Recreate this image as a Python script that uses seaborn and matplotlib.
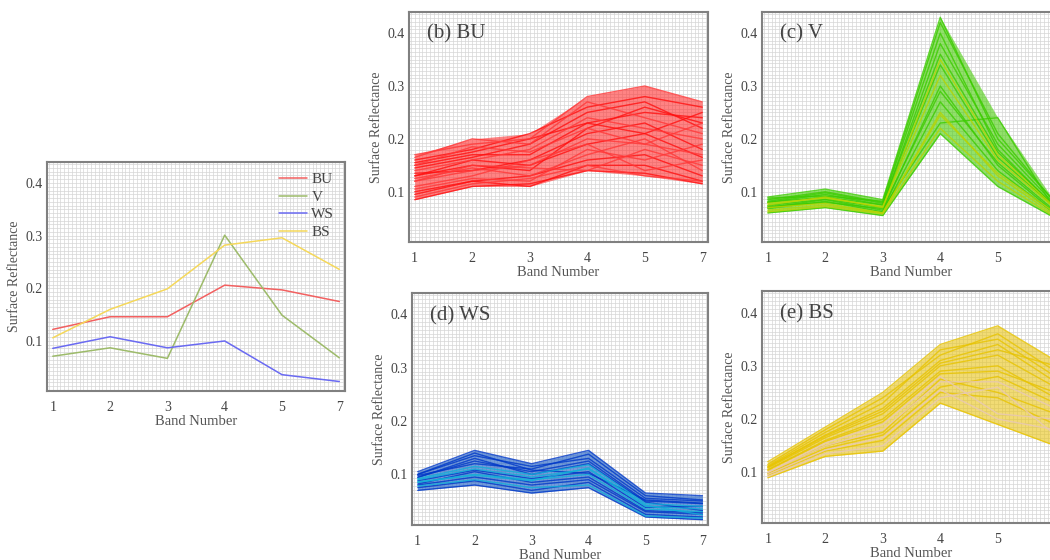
import numpy as np
import pandas as pd
import seaborn as sns
import matplotlib.pyplot as plt
from matplotlib.ticker import MultipleLocator

# band labels (positions are equally spaced, band 6 is skipped)
bands = ["1", "2", "3", "4", "5", "7"]

# (a) mean spectra
classes = ["BU", "V", "WS", "BS"]
mean_bu = [0.122, 0.146, 0.146, 0.206, 0.197, 0.175]
mean_v = [0.071, 0.087, 0.067, 0.301, 0.149, 0.068]
mean_ws = [0.086, 0.108, 0.087, 0.100, 0.036, 0.023]
mean_bs = [0.106, 0.160, 0.199, 0.282, 0.296, 0.236]

# (b) BU sample spectra
bu_spectra = [
    [0.085, 0.110, 0.115, 0.140, 0.135, 0.115],
    [0.170, 0.190, 0.200, 0.280, 0.300, 0.270],
    [0.160, 0.180, 0.210, 0.260, 0.280, 0.260],
    [0.120, 0.140, 0.150, 0.200, 0.190, 0.170],
    [0.100, 0.120, 0.110, 0.150, 0.150, 0.120],
    [0.140, 0.160, 0.180, 0.240, 0.220, 0.200],
    [0.130, 0.150, 0.140, 0.220, 0.260, 0.230],
    [0.110, 0.130, 0.160, 0.190, 0.140, 0.160],
    [0.150, 0.170, 0.170, 0.230, 0.210, 0.250],
    [0.125, 0.145, 0.130, 0.170, 0.200, 0.140],
    [0.095, 0.120, 0.130, 0.160, 0.170, 0.130],
    [0.165, 0.200, 0.190, 0.270, 0.240, 0.210],
    [0.135, 0.140, 0.160, 0.210, 0.230, 0.180],
    [0.105, 0.125, 0.120, 0.180, 0.160, 0.190],
    [0.145, 0.165, 0.190, 0.250, 0.270, 0.220],
    [0.120, 0.150, 0.145, 0.140, 0.180, 0.150],
    [0.155, 0.175, 0.200, 0.230, 0.250, 0.240],
    [0.090, 0.115, 0.125, 0.150, 0.130, 0.120],
    [0.130, 0.160, 0.150, 0.190, 0.210, 0.165],
    [0.150, 0.185, 0.175, 0.220, 0.190, 0.230],
]

# (c) V sample spectra
v_spectra = [
    [0.060, 0.070, 0.055, 0.210, 0.110, 0.050],
    [0.090, 0.105, 0.085, 0.430, 0.200, 0.080],
    [0.075, 0.090, 0.070, 0.350, 0.170, 0.070],
    [0.070, 0.085, 0.065, 0.300, 0.150, 0.060],
    [0.080, 0.095, 0.075, 0.380, 0.190, 0.075],
    [0.065, 0.075, 0.060, 0.250, 0.130, 0.055],
    [0.085, 0.100, 0.080, 0.400, 0.180, 0.070],
    [0.072, 0.080, 0.068, 0.230, 0.240, 0.065],
    [0.078, 0.088, 0.072, 0.320, 0.160, 0.068],
    [0.068, 0.082, 0.062, 0.270, 0.140, 0.058],
    [0.082, 0.098, 0.078, 0.360, 0.175, 0.072],
    [0.062, 0.072, 0.058, 0.220, 0.120, 0.052],
    [0.088, 0.092, 0.082, 0.420, 0.210, 0.078],
    [0.074, 0.086, 0.070, 0.290, 0.155, 0.063],
    [0.070, 0.078, 0.060, 0.245, 0.135, 0.060],
    [0.080, 0.090, 0.075, 0.340, 0.165, 0.070],
]

# (d) WS sample spectra
ws_spectra = [
    [0.070, 0.080, 0.065, 0.075, 0.020, 0.015],
    [0.105, 0.145, 0.120, 0.145, 0.065, 0.060],
    [0.090, 0.110, 0.095, 0.110, 0.040, 0.035],
    [0.080, 0.095, 0.080, 0.090, 0.030, 0.025],
    [0.095, 0.125, 0.105, 0.125, 0.050, 0.045],
    [0.085, 0.100, 0.090, 0.100, 0.035, 0.030],
    [0.100, 0.135, 0.115, 0.130, 0.055, 0.050],
    [0.075, 0.088, 0.070, 0.085, 0.025, 0.020],
    [0.092, 0.115, 0.100, 0.118, 0.045, 0.040],
    [0.082, 0.105, 0.085, 0.095, 0.032, 0.028],
    [0.098, 0.120, 0.110, 0.138, 0.060, 0.052],
    [0.078, 0.090, 0.075, 0.080, 0.022, 0.018],
    [0.088, 0.108, 0.092, 0.105, 0.038, 0.040],
    [0.094, 0.130, 0.100, 0.120, 0.048, 0.032],
    [0.086, 0.098, 0.088, 0.112, 0.042, 0.024],
    [0.100, 0.140, 0.108, 0.102, 0.052, 0.046],
]

# (e) BS sample spectra
bs_spectra = [
    [0.090, 0.130, 0.140, 0.230, 0.190, 0.150],
    [0.120, 0.185, 0.250, 0.340, 0.375, 0.310],
    [0.105, 0.160, 0.200, 0.290, 0.300, 0.240],
    [0.100, 0.150, 0.180, 0.270, 0.270, 0.220],
    [0.110, 0.170, 0.220, 0.310, 0.340, 0.270],
    [0.095, 0.140, 0.160, 0.250, 0.240, 0.190],
    [0.115, 0.180, 0.240, 0.320, 0.360, 0.290],
    [0.100, 0.155, 0.190, 0.280, 0.210, 0.200],
    [0.108, 0.165, 0.210, 0.300, 0.320, 0.260],
    [0.098, 0.145, 0.170, 0.260, 0.280, 0.230],
    [0.112, 0.175, 0.230, 0.330, 0.350, 0.280],
    [0.092, 0.135, 0.150, 0.240, 0.260, 0.170],
    [0.104, 0.158, 0.195, 0.285, 0.290, 0.250],
    [0.100, 0.150, 0.175, 0.275, 0.250, 0.210],
    [0.110, 0.168, 0.215, 0.305, 0.330, 0.300],
    [0.096, 0.142, 0.165, 0.255, 0.200, 0.180],
]

mean_colors = ["#f26060", "#9dbb6a", "#6a6af2", "#f5d85a"]

sns.set_style("white")
plt.rcParams['font.family'] = ['Liberation Serif', 'DejaVu Serif']

txt = "#555555"


def styleAxis(ax):
    """"""
    ax.set_xlim(-0.1, 5.1)
    ax.set_ylim(0.005, 0.44)
    ax.set_xticks(range(len(bands)))
    ax.set_xticklabels(bands)
    ax.set_yticks([0.1, 0.2, 0.3, 0.4])
    ax.set_yticklabels(["0.1", "0.2", "0.3", "0.4"])
    ax.xaxis.set_minor_locator(MultipleLocator(1 / 15))
    ax.yaxis.set_minor_locator(MultipleLocator(0.1 / 14))
    ax.grid(which='both', color='#d6d6d6', lw=0.5)
    ax.set_axisbelow(True)
    for s in ax.spines.values():
        s.set_color('#808080')
        s.set_linewidth(1.5)
    ax.tick_params(which='both', length=0, labelsize=10, colors='#444444')
    ax.tick_params(axis='x', pad=7)
    ax.tick_params(axis='y', pad=3)
    ax.set_xlabel("Band Number", fontsize=10.5, color=txt, labelpad=1)
    ax.set_ylabel("Surface Reflectance", fontsize=10, color=txt, labelpad=3)


def spectraFrame(spectra, groups):
    rows = []
    for i, sp in enumerate(spectra):
        for j, v in enumerate(sp):
            rows.append({"pos": j, "refl": v, "sample": i, "group": groups[i % len(groups)]})
    return pd.DataFrame(rows)


def plotBundle(ax, spectra, groups, palette, fill, title):
    df = spectraFrame(spectra, groups)
    arr = np.array(spectra)
    ax.fill_between(range(len(bands)), arr.min(axis=0), arr.max(axis=0),
                    color=fill, alpha=0.6, lw=0)
    sns.lineplot(data=df, x="pos", y="refl", units="sample", estimator=None,
                 hue="group", palette=palette, lw=1.0, alpha=0.8, legend=False, ax=ax)
    styleAxis(ax)
    ax.text(0.06, 0.945, title, transform=ax.transAxes, fontsize=15, color='#444444',
            va='top', ha='left')


fig = plt.figure(figsize=(10.5, 5.6), dpi=100)

# (a) mean spectra
ax_a = fig.add_axes([0.0448, 0.3018, 0.2838, 0.409])
mean_df = pd.DataFrame({
    "pos": list(range(len(bands))) * 4,
    "refl": mean_bu + mean_v + mean_ws + mean_bs,
    "class": [c for c in classes for _ in bands],
})
sns.lineplot(data=mean_df, x="pos", y="refl", hue="class", palette=mean_colors,
             lw=1.1, ax=ax_a)
styleAxis(ax_a)
leg = ax_a.legend(loc='upper right', frameon=False, fontsize=11, handlelength=1.8,
                  handletextpad=0.3, labelspacing=0.25, borderaxespad=0.3)
for t in leg.get_texts():
    t.set_color('#444444')

# (b) BU
ax_b = fig.add_axes([0.3895, 0.5679, 0.2848, 0.4107])
plotBundle(ax_b, bu_spectra, ["a", "b"], ["#ff1010", "#ff3838"], "#ff3030", "(b) BU")

# (c) V
ax_c = fig.add_axes([0.7257, 0.5679, 0.2848, 0.4107])
plotBundle(ax_c, v_spectra, ["a", "a", "b"], ["#3ccc00", "#b8d400"], "#48cc08", "(c) V")

# (d) WS
ax_d = fig.add_axes([0.3924, 0.0625, 0.282, 0.414])
plotBundle(ax_d, ws_spectra, ["a", "a", "b"], ["#0038c8", "#10b0d8"], "#1458c4", "(d) WS")

# (e) BS
ax_e = fig.add_axes([0.7257, 0.066, 0.2848, 0.414])
plotBundle(ax_e, bs_spectra, ["a", "a", "a", "b"], ["#e8c400", "#e8c8b8"], "#e8c418", "(e) BS")

fig.savefig("out.png", dpi=100)
plt.close()
